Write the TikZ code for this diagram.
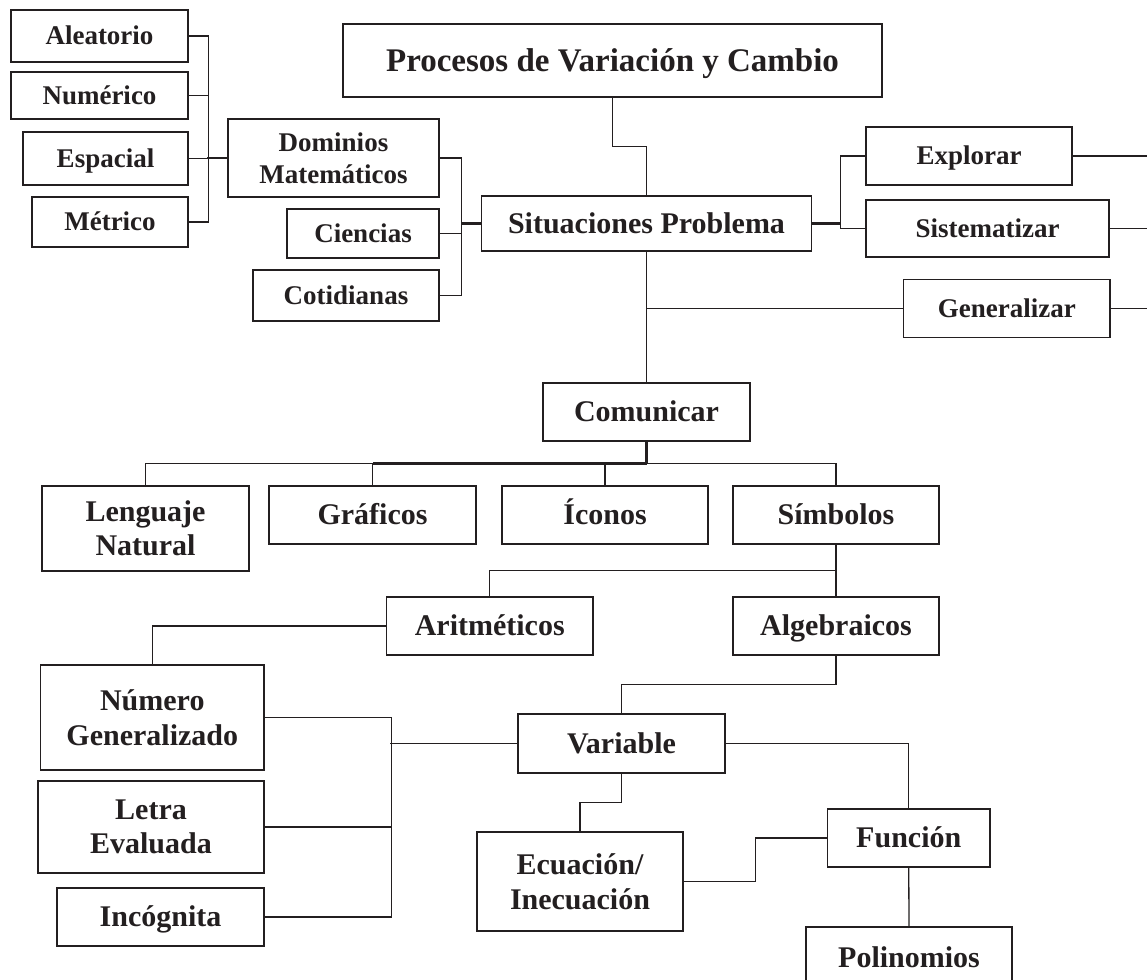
\documentclass[tikz,border=0pt]{standalone}
\usepackage{fontspec}
\setmainfont{Liberation Serif}
\usetikzlibrary{calc}
\newcommand\ftitle{\fontsize{33}{38}\selectfont\bfseries}
\newcommand\fmain{\fontsize{30}{34.5}\selectfont\bfseries}
\newcommand\fsub{\fontsize{27}{32}\selectfont\bfseries}
\definecolor{ink}{HTML}{231F20}
\begin{document}
\begin{tikzpicture}[x=1pt,y=-1pt,
  box/.style={draw=ink, line width=1.3pt, inner sep=0pt, align=center, text=ink, font=\fmain},
  one/.style={text height=21.6pt, text depth=1.8pt},
  sbox/.style={box, font=\fsub},
  sone/.style={text height=19.4pt, text depth=1.6pt},
  tbox/.style={box, font=\ftitle, text height=23.8pt, text depth=2pt},
  ln/.style={draw=ink, line width=1.3pt},
  mln/.style={draw=ink, line width=1.8pt},
  thk/.style={draw=ink, line width=2.6pt}]
\useasboundingbox (0,0) rectangle (1147,979);
\clip (0,0) rectangle (1147,979);
\fill[white] (0,0) rectangle (1147,979);
\coordinate (redge) at (1160,0);

% top-left group
\node[sbox, sone, minimum width=177pt, minimum height=52pt] (ale) at (99.5,36) {Aleatorio};
\node[sbox, sone, minimum width=177pt, minimum height=47pt] (num) at (99.5,95.5) {Numérico};
\node[sbox, sone, minimum width=165pt, minimum height=53pt] (esp) at (105.5,158.5) {Espacial};
\node[sbox, sone, minimum width=156pt, minimum height=50pt] (met) at (110,222) {Métrico};
\node[sbox, minimum width=211pt, minimum height=78pt] (dom) at (333.5,158) {Dominios\\Matemáticos};
\node[sbox, sone, minimum width=152pt, minimum height=49pt] (cie) at (363,233.5) {Ciencias};
\node[sbox, sone, minimum width=186pt, minimum height=51pt] (cot) at (346,295.5) {Cotidianas};

% title and situations
\node[tbox, minimum width=539pt, minimum height=73pt] (pro) at (612.5,60.5) {Procesos de Variación y Cambio};
\node[box, one, minimum width=330pt, minimum height=55pt] (sit) at (646.5,223.5) {Situaciones Problema};
\node[sbox, sone, minimum width=206pt, minimum height=58pt] (exp) at (969,156) {Explorar};
\node[sbox, sone, minimum width=243pt, minimum height=57pt] (sis) at (987.5,228.5) {Sistematizar};
\node[sbox, sone, minimum width=206.5pt, minimum height=58pt] (gen) at (1006.75,308.5) {Generalizar};

% communicate
\node[box, one, minimum width=207pt, minimum height=58pt] (com) at (646.5,412) {Comunicar};
\node[box, minimum width=207pt, minimum height=85pt] (len) at (145.5,528.5) {Lenguaje\\Natural};
\node[box, one, minimum width=207pt, minimum height=58pt] (gra) at (372.5,515) {Gráficos};
\node[box, one, minimum width=206pt, minimum height=58pt] (ico) at (605,515) {Íconos};
\node[box, one, minimum width=206pt, minimum height=58pt] (sim) at (836,515) {Símbolos};
\node[box, one, minimum width=206.5pt, minimum height=58pt] (ari) at (489.75,626) {Aritméticos};
\node[box, one, minimum width=206pt, minimum height=58pt] (alg) at (836,626) {Algebraicos};

% bottom group
\node[box, minimum width=223.4pt, minimum height=105pt] (ng) at (152.3,717.5) {Número\\Generalizado};
\node[box, minimum width=226pt, minimum height=92pt] (le) at (151,827) {Letra\\Evaluada};
\node[box, one, minimum width=207pt, minimum height=58pt] (inc) at (160.5,917) {Incógnita};
\node[box, one, minimum width=207pt, minimum height=59pt] (var) at (621.5,743.5) {Variable};
\node[box, minimum width=206pt, minimum height=99pt] (ecu) at (580,881.5) {Ecuación/\\Inecuación};
\node[box, one, minimum width=162.5pt, minimum height=58pt] (fun) at (908.75,838) {Función};
\node[box, one, minimum width=206pt, minimum height=62pt] (pol) at (909,958) {Polinomios};

% connectors: top-left
\draw[ln] (ale.east) -- ++(20,0) |- (met.east);
\draw[ln] (num.east) -- ++(20,0);
\draw[ln] (esp.east) -- ++(20,0);
\draw[thk] (dom.west) -- ++(-20,0);
\draw[ln] (dom.east) -- ++(22,0) |- (cot.east);
\draw[ln] (cie.east) -- ++(22,0);
\draw[thk] (sit.west) -- ++(-20,0);

% title to situations
\draw[ln] (pro.south) -- ++(0,49) -| (sit.north);

% situations to right boxes
\draw[thk] (sit.east) -- ++(28,0) coordinate (sj);
\draw[ln] (exp.west) -| (sj);
\draw[ln] (sis.west) -| (sj);
\draw[ln] (exp.east) -- (exp.east -| redge);
\draw[ln] (sis.east) -- (sis.east -| redge);
\draw[ln] (gen.east) -- (gen.east -| redge);

% situations down to communicate
\draw[ln] (sit.south) -- (com.north);
\draw[ln] (sit.south |- gen.west) -- (gen.west);

% communicate bus
\draw[thk] (com.south) -- ++(0,22) coordinate (cb);
\draw[thk] (cb) -- (cb -| gra.north);
\draw[ln] (cb -| gra.north) -| (len.north);
\draw[ln] (cb) -| (sim.north);
\draw[ln] (gra.north) -- (gra.north |- cb);
\draw[ln] (ico.north) -- (ico.north |- cb);

% symbols
\draw[ln] (sim.south) -- (alg.north);
\draw[ln] (ari.north) |- ($(sim.south)!0.5!(alg.north)$);
\draw[ln] (ari.west) -| (ng.north);
\draw[ln] (alg.south) -- ++(0,29) -| (var.north);

% bracket to variable
\draw[ln] (ng.east) -- ++(127,0) |- (inc.east);
\draw[ln] (le.east) -- ++(127,0);
\draw[mln] (var.west) -- ++(-127,0);

% variable and function
\draw[ln] (var.east) -| (fun.north);
\draw[ln] (var.south) -- ++(0,29) -| (ecu.north);
\draw[ln] (fun.west) -- ++(-71.5,0) |- (ecu.east);
\draw[ln] (fun.south) -- (pol.north);
\end{tikzpicture}
\end{document}
